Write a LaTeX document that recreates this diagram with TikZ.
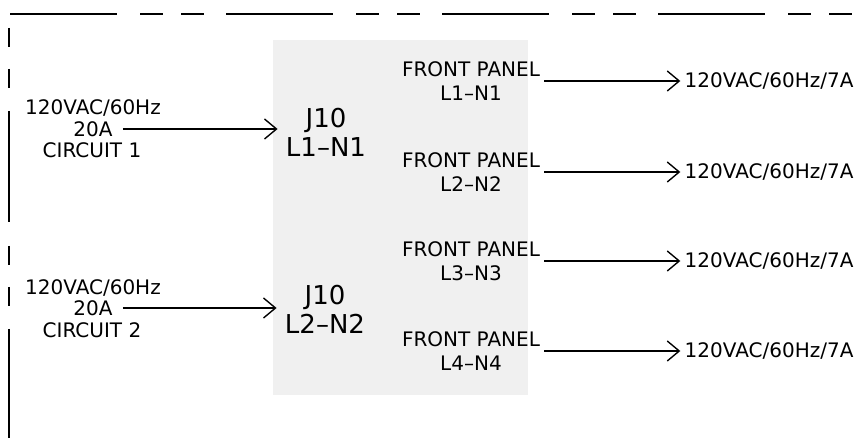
\documentclass[tikz,border=0pt]{standalone}
\usepackage{fontspec}
\setmainfont{DejaVu Sans}
\usetikzlibrary{arrows.meta,positioning}
\definecolor{stipplegray}{HTML}{F0F0F0}
\tikzset{
  lbl/.style={font=\fontsize{10}{10.5}\selectfont,inner sep=0pt},
  jtxt/.style={font=\fontsize{13}{14.5}\selectfont,align=center,inner sep=4pt},
  fptxt/.style={font=\fontsize{10}{12}\selectfont,align=center,inner sep=2pt},
  outtxt/.style={font=\fontsize{10}{12}\selectfont,inner sep=2pt},
  flow/.style={-{Straight Barb[length=6pt,width=10pt]},line width=.7pt},
  border/.style={line width=1pt},
  stipple/.style={fill=stipplegray},
}
\begin{document}
\begin{tikzpicture}[x=.5pt,y=-.5pt]
  \useasboundingbox (0,0) rectangle (858,438);
  % sheet border
  \draw[border,dash pattern=on 53.5pt off 11.5pt on 11.5pt off 9pt on 11.5pt off 11pt] (10,14) -- (858,14);
  \draw[border,line width=1.3pt,dash pattern=on 9.5pt off 11pt on 9.5pt off 11.5pt on 55.5pt off 12pt] (9,28) -- (9,438);
  % connector block
  \fill[stipple] (273,40) rectangle (528,395);
  \node[jtxt] (jn1) at (326,132) {J10\\L1--N1};
  \node[jtxt] (jn2) at (325,309) {J10\\L2--N2};
  % incoming circuits
  \node[lbl] (v1) at (93,108) {120VAC/60Hz};
  \node[lbl] (a1) at (93,129) {20A};
  \node[lbl] (c1) at (92,150) {CIRCUIT 1};
  \draw[flow,shorten <=5pt] (a1.east) -- (a1.east -| jn1.west);
  \node[lbl] (v2) at (93,288) {120VAC/60Hz};
  \node[lbl] (a2) at (93,308) {20A};
  \node[lbl] (c2) at (92,330) {CIRCUIT 2};
  \draw[flow,shorten <=5pt] (a2.east) -- (a2.east -| jn2.west);
  % front panel outlets
  \node[fptxt] (fp1) at (471,81) {FRONT PANEL\\L1--N1};
  \node[fptxt] (fp2) at (471,172) {FRONT PANEL\\L2--N2};
  \node[fptxt] (fp3) at (471,261) {FRONT PANEL\\L3--N3};
  \node[fptxt] (fp4) at (471,351) {FRONT PANEL\\L4--N4};
  \node[outtxt,right=68pt of fp1] (o1) {120VAC/60Hz/7A};
  \node[outtxt,right=68pt of fp2] (o2) {120VAC/60Hz/7A};
  \node[outtxt,right=68pt of fp3] (o3) {120VAC/60Hz/7A};
  \node[outtxt,right=68pt of fp4] (o4) {120VAC/60Hz/7A};
  \draw[flow] (fp1) -- (o1);
  \draw[flow] (fp2) -- (o2);
  \draw[flow] (fp3) -- (o3);
  \draw[flow] (fp4) -- (o4);
\end{tikzpicture}
\end{document}
